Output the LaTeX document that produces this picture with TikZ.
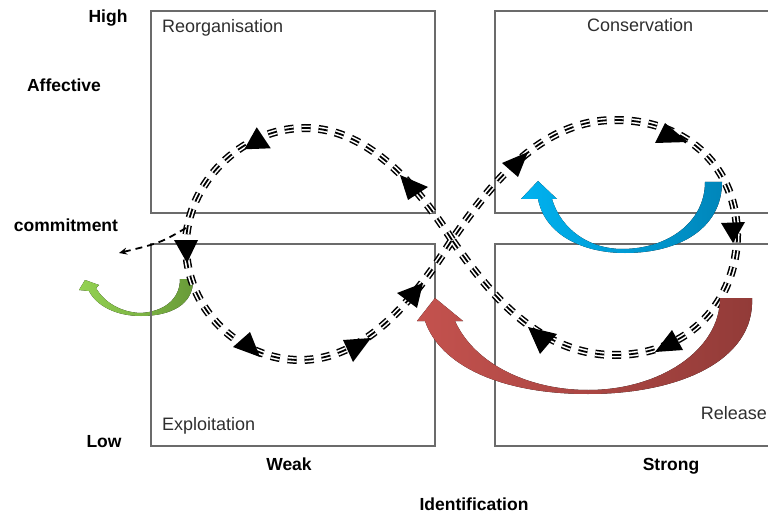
\documentclass[tikz,border=0pt]{standalone}
\usepackage{fontspec}
\setmainfont{Liberation Sans}
\usetikzlibrary{arrows.meta}

\definecolor{boxgray}{HTML}{6B6B6B}
\definecolor{phasetext}{HTML}{2E2E2E}
\definecolor{redlight}{HTML}{C4524E}
\definecolor{reddark}{HTML}{923B38}
\definecolor{bluelight}{HTML}{00B2F0}
\definecolor{bluedark}{HTML}{0086BA}
\definecolor{greenlight}{HTML}{94D252}
\definecolor{greendark}{HTML}{689A38}

\begin{document}
\begin{tikzpicture}[x=1pt, y=-1pt,
  quad/.style={draw=boxgray, line width=1.4pt, minimum width=284pt, minimum height=202pt, inner sep=0pt},
  axislabel/.style={font=\fontsize{17.5}{20}\selectfont\bfseries, anchor=base, inner sep=0pt},
  phase/.style={font=\fontsize{18}{21}\selectfont, text=phasetext, inner sep=0pt},
  tripledash/.style={line width=8pt, dash pattern=on 9pt off 8pt,
    postaction={draw, white, line width=5pt, dash pattern=on 9pt off 8pt},
    postaction={draw, black, line width=1.8pt, dash pattern=on 9pt off 8pt}}]

\useasboundingbox (0,0) rectangle (768,513);
\clip (0,0) rectangle (768,513);

% green arrow sits under the boxes
\fill[left color=greenlight, right color=greendark]
  (193,279) .. controls (194,305) and (170,316) .. (141,316)
  .. controls (115,316) and (96,305) .. (89,291) -- (79,290) -- (85,280) -- (99,285) -- (96,288)
  .. controls (104,302) and (120,312) .. (140,313)
  .. controls (163,312) and (180,300) .. (180,279) -- cycle;

\node[quad] (reorg_box) at (293,112) {};
\node[quad] (conserv_box) at (637,112) {};
\node[quad] (exploit_box) at (293,345) {};
\node[quad] (release_box) at (637,345) {};

\node[phase, anchor=base west] (reorg) at (162,33) {Reorganisation};
\node[phase, anchor=base west] (conserv) at (587,32) {Conservation};
\node[phase, anchor=base west] (exploit) at (162,430) {Exploitation};
\node[phase, anchor=base east] (release) at (767,419) {Release};

\node[axislabel] (high) at (108,23) {High};
\node[axislabel] (affective) at (64,92) {Affective};
\node[axislabel] (commitment) at (66,231) {commitment};
\node[axislabel] (low) at (104,447) {Low};
\node[axislabel] (weak) at (289,470) {Weak};
\node[axislabel] (strong) at (671,470) {Strong};
\node[axislabel] (identification) at (474,510) {Identification};

\coordinate (cross) at (452,240);
\coordinate (ltop) at (305,128);
\coordinate (lleft) at (186,245);
\coordinate (lbot) at (300,360);
\coordinate (rtop) at (615,120);
\coordinate (rright) at (737,235);
\coordinate (rbot) at (615,355);

\draw[tripledash] (cross) .. controls (420,190) and (370,128) .. (ltop)
  .. controls (240,128) and (186,185) .. (lleft)
  .. controls (186,310) and (240,360) .. (lbot)
  .. controls (370,360) and (420,290) .. (cross)
  .. controls (490,185) and (540,120) .. (rtop)
  .. controls (690,120) and (737,170) .. (rright)
  .. controls (737,300) and (690,355) .. (rbot)
  .. controls (540,355) and (490,295) .. (cross);

\foreach \ax/\ay/\bx/\by/\cx/\cy in {256.7/127.3/244.3/149.3/270.7/148.3,
    400/175/428/187/408/200, 174/240/198/240/187/263, 250/332/233/347/260/357,
    343/340/371/338/353/362, 397/293/423/283/417/308, 528/152/502/163/518/177,
    665/123/655/143/688/142, 721/223/745/222/733/243, 672/330/683/350/655/352,
    528/327/557/334/540/354}
  \fill (\ax,\ay) -- (\bx,\by) -- (\cx,\cy) -- cycle;

\coordinate (exit_start) at (186,228);
\coordinate (exit_tip) at (119,253);
\draw[line width=1.8pt, dash pattern=on 7pt off 5pt, -{Stealth[length=8pt, width=7pt]}]
  (exit_start) .. controls (160,243) .. (exit_tip);

\fill[left color=bluelight, right color=bluedark]
  (722,182) .. controls (722,228) and (680,253) .. (625,253)
  .. controls (583,253) and (545,235) .. (538,199) -- (521,199) -- (538,181) -- (557,199) -- (552,199)
  .. controls (562,232) and (592,249) .. (622,249)
  .. controls (668,249) and (705,222) .. (705,182) -- cycle;

\fill[left color=redlight, right color=reddark]
  (752,298) .. controls (755,360) and (680,394) .. (588,394)
  .. controls (500,394) and (440,365) .. (425,321) -- (417,321) -- (435,298) -- (463,321) -- (455,321)
  .. controls (475,365) and (530,390) .. (588,390)
  .. controls (660,390) and (720,350) .. (720,298) -- cycle;

\end{tikzpicture}
\end{document}
